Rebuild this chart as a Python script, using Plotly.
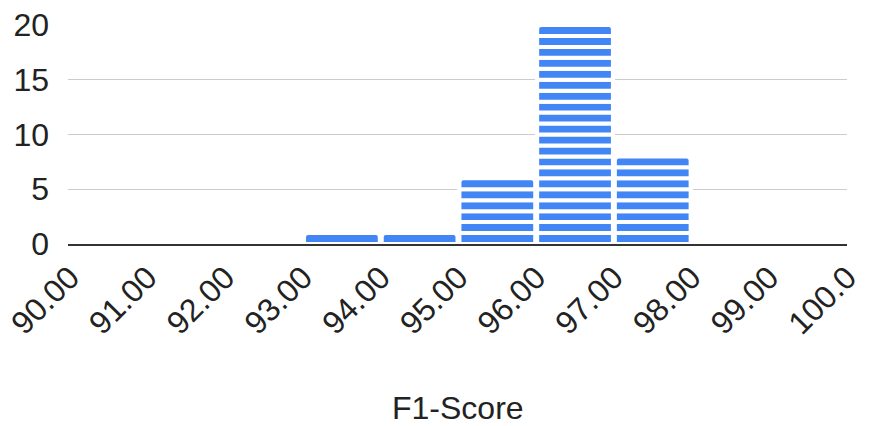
import plotly.graph_objects as go

# Histogram of F1-scores: one-point-wide bins from 90 to 100
bin_starts = [90, 91, 92, 93, 94, 95, 96, 97, 98, 99]
counts = [0, 0, 0, 1, 1, 6, 20, 8, 0, 0]
tick_values = [90, 91, 92, 93, 94, 95, 96, 97, 98, 99, 100]
tick_labels = ["90.00", "91.00", "92.00", "93.00", "94.00", "95.00",
               "96.00", "97.00", "98.00", "99.00", "100.0"]
y_ticks = [0, 5, 10, 15, 20]

BLUE = "#4285F4"
FONT = "Liberation Sans, Arial, sans-serif"
TEXT = "#222222"

# Each observation is one stacked unit block, separated by white strokes
xs, ys = [], []
for start, n in zip(bin_starts, counts):
    for _ in range(n):
        xs.append(start + 0.5)
        ys.append(1)

fig = go.Figure(
    go.Bar(
        x=xs,
        y=ys,
        width=0.975,
        marker=dict(color=BLUE, line=dict(color="white", width=4), cornerradius=4),
        hoverinfo="skip",
    )
)

fig.update_layout(
    width=869,
    height=426,
    margin=dict(l=68, r=22, t=25, b=182),
    paper_bgcolor="white",
    plot_bgcolor="white",
    barmode="stack",
    showlegend=False,
    font=dict(family=FONT, size=32, color=TEXT),
    annotations=[
        dict(
            text="F1-Score",
            xref="paper", yref="paper",
            x=0.5, y=-164 / 219,
            xanchor="center", yanchor="middle",
            height=32, valign="middle", borderpad=0,
            showarrow=False,
            font=dict(family=FONT, size=32, color=TEXT),
        )
    ],
)

fig.update_xaxes(
    range=[89.975, 100.0],
    tickmode="array",
    tickvals=tick_values,
    ticktext=tick_labels,
    tickangle=-45,
    showgrid=False,
    zeroline=False,
    showline=True,
    linecolor="#333333",
    linewidth=2,
    ticks="",
    automargin=False,
)

fig.update_yaxes(
    range=[0, 20],
    tickmode="array",
    tickvals=y_ticks,
    showgrid=True,
    gridcolor="#cccccc",
    gridwidth=1,
    zeroline=False,
    showline=False,
    ticks="",
    ticklabelstandoff=18,
    automargin=False,
)

fig.write_html("out.html")
